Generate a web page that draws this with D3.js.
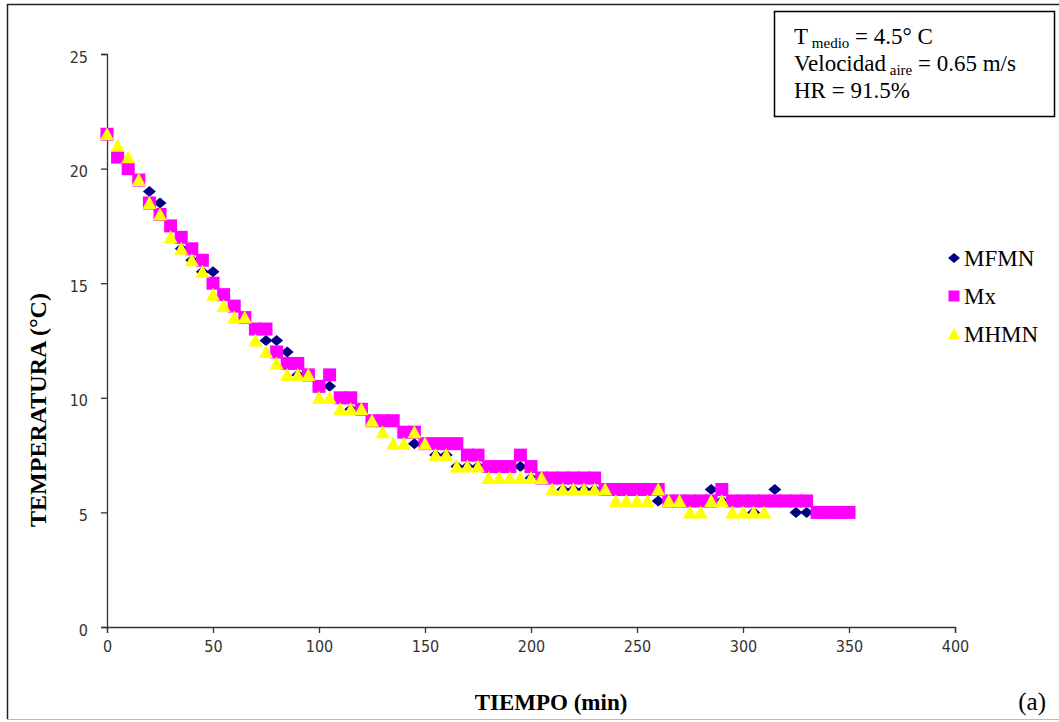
<!DOCTYPE html>
<html>
<head>
<meta charset="utf-8">
<script src="https://cdn.jsdelivr.net/npm/d3@7"></script>
<style>
  body { margin: 0; background: #fff; }
  svg { display: block; }
</style>
</head>
<body>
<div id="chart"></div>
<script>
// times in minutes, every 5 min
var tMFMN = d3.range(0, 335, 5);
var MFMN = [21.5, 20.5, 20, 19.5, 19, 18.5, 17.5, 16.5, 16, 15.5,
  15.5, 14.5, 14, 13.5, 13, 12.5, 12.5, 12, 11, 11,
  10.5, 10.5, 10, 9.5, 9.5, 9, 9, 9, 8.5, 8,
  8, 7.5, 7.5, 7, 7, 7, 7, 7, 7, 7,
  6.5, 6.5, 6.5, 6, 6, 6, 6, 6, 6, 6,
  6, 6, 5.5, 5.5, 5.5, 5.5, 5.5, 6, 5.5, 5.5,
  5.5, 5, 5.5, 6, 5.5, 5, 5];

var tMx = d3.range(0, 355, 5);
var Mx = [21.5, 20.5, 20, 19.5, 18.5, 18, 17.5, 17, 16.5, 16,
  15, 14.5, 14, 13.5, 13, 13, 12, 11.5, 11.5, 11,
  10.5, 11, 10, 10, 9.5, 9, 9, 9, 8.5, 8.5,
  8, 8, 8, 8, 7.5, 7.5, 7, 7, 7, 7.5,
  7, 6.5, 6.5, 6.5, 6.5, 6.5, 6.5, 6, 6, 6,
  6, 6, 6, 5.5, 5.5, 5.5, 5.5, 5.5, 6, 5.5,
  5.5, 5.5, 5.5, 5.5, 5.5, 5.5, 5.5, 5, 5, 5, 5];

var tMHMN = d3.range(0, 315, 5);
var MHMN = [21.5, 21, 20.5, 19.5, 18.5, 18, 17, 16.5, 16, 15.5,
  14.5, 14, 13.5, 13.5, 12.5, 12, 11.5, 11, 11, 11,
  10, 10, 9.5, 9.5, 9.5, 9, 8.5, 8, 8, 8.5,
  8, 7.5, 7.5, 7, 7, 7, 6.5, 6.5, 6.5, 6.5,
  6.5, 6.5, 6, 6, 6, 6, 6, 6, 5.5, 5.5,
  5.5, 5.5, 6, 5.5, 5.5, 5, 5, 5.5, 5.5, 5,
  5, 5, 5];

var xTicks = [0, 50, 100, 150, 200, 250, 300, 350, 400];
var yTicks = [0, 5, 10, 15, 20, 25];
var seriesNames = ["MFMN", "Mx", "MHMN"];

var W = 1059, H = 722;
var margin = {top: 54, right: 104, bottom: 95, left: 107},
  width = W - margin.left - margin.right,
  height = H - margin.top - margin.bottom;

var svg = d3.select('#chart')
  .append('svg')
    .attr('width', W)
    .attr('height', H);

// outer frame
svg.append('line').attr('x1', 7.5).attr('y1', 4).attr('x2', 7.5).attr('y2', 719)
  .attr('stroke', '#222').attr('stroke-width', 1.5);
svg.append('line').attr('x1', 7).attr('y1', 4.5).attr('x2', W).attr('y2', 4.5)
  .attr('stroke', '#222').attr('stroke-width', 1.5);
svg.append('line').attr('x1', 7).attr('y1', 719.5).attr('x2', W).attr('y2', 719.5)
  .attr('stroke', '#bbb').attr('stroke-width', 1);

var g = svg.append('g')
  .attr('transform', 'translate(' + margin.left + ',' + margin.top + ')');

var x = d3.scaleLinear().domain([0, 400]).range([0, width]);
var y = d3.scaleLinear().domain([0, 25]).range([height, 0]);

var tickFont = '"Liberation Sans Narrow", "DejaVu Sans Condensed", "Liberation Sans", sans-serif';

var xAxis = g.append('g')
  .attr('transform', 'translate(0,' + height + ')')
  .call(d3.axisBottom(x).tickValues(xTicks).tickSize(6).tickFormat(d3.format('d')));
var yAxis = g.append('g')
  .call(d3.axisLeft(y).tickValues(yTicks).tickSize(6).tickFormat(d3.format('d')));

[xAxis, yAxis].forEach(function(a) {
  a.select('.domain').attr('stroke', '#333').attr('stroke-width', 1.3);
  a.selectAll('.tick line').attr('stroke', '#333').attr('stroke-width', 1.3);
  a.selectAll('.tick text')
    .attr('fill', '#333')
    .style('font-family', tickFont)
    .style('font-size', '16px');
});
xAxis.selectAll('.tick text').attr('y', 14);
yAxis.selectAll('.tick text').attr('x', -19).attr('dy', '0.5em');

// series markers
var square = 'M-6.5,-6.5H6.5V6.5H-6.5Z';
var diamond = 'M0,-5.5L6.5,0L0,5.5L-6.5,0Z';
var triangle = 'M0,-7L7,6H-7Z';

function drawSeries(ts, vs, path, color) {
  g.append('g').selectAll('path')
    .data(vs)
    .enter()
    .append('path')
      .attr('d', path)
      .attr('fill', color)
      .attr('transform', function(d, i) { return 'translate(' + x(ts[i]) + ',' + y(d) + ')'; });
}
drawSeries(tMFMN, MFMN, diamond, '#000080');
drawSeries(tMx, Mx, square, '#ff00ff');
drawSeries(tMHMN, MHMN, triangle, '#ffff00');

// axis titles
svg.append('text')
  .attr('x', 551).attr('y', 710)
  .attr('text-anchor', 'middle')
  .style('font-family', '"Liberation Serif", serif')
  .style('font-weight', 'bold')
  .style('font-size', '23px')
  .text('TIEMPO (min)');

svg.append('text')
  .attr('transform', 'translate(46,410) rotate(-90)')
  .attr('text-anchor', 'middle')
  .style('font-family', '"Liberation Serif", serif')
  .style('font-weight', 'bold')
  .style('font-size', '24px')
  .text('TEMPERATURA (°C)');

svg.append('text')
  .attr('x', 1046).attr('y', 710)
  .attr('text-anchor', 'end')
  .style('font-family', '"Liberation Serif", serif')
  .style('font-size', '25px')
  .text('(a)');

// legend
var legendY = [258, 296, 334];
var legendShapes = [
  'M0,-5L6,0L0,5L-6,0Z',
  'M-5.5,-5.5H5.5V5.5H-5.5Z',
  'M0,-6L6,5H-6Z'
];
var legendColors = ['#000080', '#ff00ff', '#ffff00'];
var legend = svg.append('g');
seriesNames.forEach(function(name, i) {
  legend.append('path')
    .attr('d', legendShapes[i])
    .attr('fill', legendColors[i])
    .attr('transform', 'translate(954,' + legendY[i] + ')');
  legend.append('text')
    .attr('x', 964).attr('y', legendY[i] + 8)
    .style('font-family', '"Liberation Serif", serif')
    .style('font-size', '23px')
    .text(name);
});

// conditions box
var box = svg.append('g');
box.append('rect')
  .attr('x', 774.5).attr('y', 11.5)
  .attr('width', 280).attr('height', 105)
  .attr('fill', '#fff').attr('stroke', '#000').attr('stroke-width', 1.5);

var infoLines = [
  ['T', ' medio', ' = 4.5° C'],
  ['Velocidad', ' aire', ' = 0.65 m/s'],
  ['HR = 91.5%', '', '']
];
infoLines.forEach(function(parts, i) {
  var t = box.append('text')
    .attr('x', 794).attr('y', 44 + i * 27)
    .style('font-family', '"Liberation Serif", serif')
    .style('font-size', '23px');
  t.append('tspan').text(parts[0]);
  if (parts[1]) {
    t.append('tspan').attr('dy', 4).style('font-size', '15px').text(parts[1]);
    t.append('tspan').attr('dy', -4).text(parts[2]);
  }
});
</script>
</body>
</html>
